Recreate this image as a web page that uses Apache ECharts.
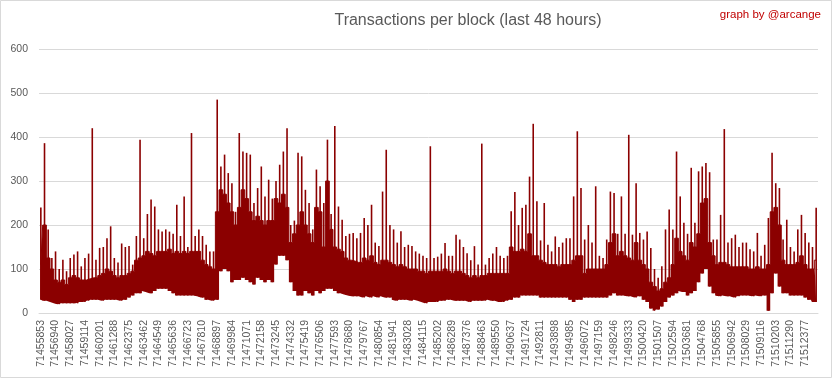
<!DOCTYPE html>
<html>
<head>
<meta charset="utf-8">
<script src="https://cdn.jsdelivr.net/npm/echarts@6/dist/echarts.min.js"></script>
<style>
html,body{margin:0;padding:0;background:#fff;}
#chart{width:833px;height:379px;}
</style>
</head>
<body>
<div id="chart"></div>
<script>
// Tick labels (block numbers, every 1087 blocks)
const tickLabels = [
"71455853","71456940","71458027","71459114","71460201","71461288","71462375","71463462",
"71464549","71465636","71466723","71467810","71468897","71469984","71471071","71472158",
"71473245","71474332","71475419","71476506","71477593","71478680","71479767","71480854",
"71481941","71483028","71484115","71485202","71486289","71487376","71488463","71489550",
"71490637","71491724","71492811","71493898","71494985","71496072","71497159","71498246",
"71499333","71500420","71501507","71502594","71503681","71504768","71505855","71506942",
"71508029","71509116","71510203","71511290","71512377"
];

// Highest transactions per block in each sample (4 samples per tick interval)
const hiValues = [
240,386,190,125, 140,100,121,95, 125,133,140,106, 125,135,420,121,
148,150,170,197, 125,115,158,150, 152,110,175,394, 170,225,258,242,
190,185,190,185, 180,246,175,265, 150,409,175,190, 175,155,140,140,
485,333,360,318, 295,230,409,367, 364,360,250,284, 333,265,303,260,
300,337,367,420, 200,210,364,356, 280,250,190,326, 288,250,394,225,
425,242,212,175, 180,182,170,182, 216,200,246,160, 152,276,371,200,
190,160,186,150, 155,152,140,135, 130,125,379,125, 128,135,159,130,
130,178,167,150, 136,120,152,110, 385,110,125,135, 150,130,125,130,
231,275,200,239, 246,310,430,254, 165,250,155,140, 174,150,160,170,
170,265,413,284, 167,200,160,288, 130,125,167,276, 273,180,265,180,
405,178,295,182, 167,185,148,100, 80,106,190,235, 190,367,265,205,
180,330,205,322, 333,341,320,167, 167,223,418,160, 170,178,150,160,
160,145,140,182, 130,155,216,364, 295,284,167,212, 150,140,190,223,
182,160,150,239
];

// Typical (dense) level of transactions per block in each sample
const bodyValues = [
110,200,125,100, 75,70,75,65, 80,85,80,75, 75,78,80,80,
85,90,100,95, 85,80,85,85, 90,95,120,125, 130,140,135,130,
140,140,140,145, 135,140,135,140, 135,140,140,140, 120,110,105,100,
230,280,270,250, 230,200,240,280, 260,230,210,220, 210,200,210,210,
260,250,270,240, 160,180,200,230, 200,180,160,240, 230,150,300,190,
150,145,140,125, 120,118,115,115, 125,120,130,115, 110,120,120,115,
110,105,110,105, 100,100,100,95, 95,90,95,95, 95,95,100,95,
90,95,95,90, 85,80,85,80, 85,85,90,90, 90,90,90,90,
150,140,140,145, 140,180,130,130, 120,115,110,110, 110,105,110,110,
110,120,130,130, 90,100,100,100, 100,100,110,160, 180,130,140,130,
125,120,160,120, 110,100,70,60, 50,55,70,80, 110,170,140,130,
120,160,150,180, 250,260,160,130, 110,115,115,110, 105,105,105,105,
105,100,100,105, 100,100,110,230, 240,200,120,110, 110,110,115,130,
110,100,100,120
];

// Lowest transactions per block in each sample
const loValues = [
30,28,28,25, 22,20,22,22, 22,22,22,25, 25,28,30,30,
30,28,30,30, 30,30,28,30, 35,40,45,45, 50,48,45,50,
55,55,55,50, 45,40,40,40, 40,40,40,38, 35,30,30,28,
30,95,100,95, 70,75,75,80, 75,70,65,80, 75,70,75,70,
110,130,130,120, 70,50,40,40, 50,45,40,50, 45,50,55,55,
50,45,45,42, 40,38,38,38, 35,38,35,38, 35,38,35,35,
30,28,30,30, 30,28,30,28, 25,22,25,25, 25,28,28,30,
30,28,28,28, 28,25,28,28, 28,28,30,28, 28,25,25,28,
30,35,35,40, 40,40,40,40, 35,35,35,35, 35,35,35,35,
30,25,30,30, 35,35,35,35, 35,35,35,40, 45,40,40,40,
38,38,35,38, 30,25,10,5, 8,15,25,35, 40,45,50,48,
40,45,50,70, 90,100,60,45, 40,38,40,38, 38,35,38,40,
40,40,38,40, 38,40,5,45, 90,60,45,45, 40,40,40,40,
35,30,25,25
];

const yTicks = [0,100,200,300,400,500,600];

const perTick = 4;
const cats = hiValues.map((v, i) => String(i));
const bodyRange = bodyValues.map((v, i) => v - loValues[i]);
const spikeRange = hiValues.map((v, i) => v - loValues[i]);
const RED = '#8B0000';
const labelFont = 'Liberation Sans, Arial, sans-serif';

const chart = echarts.init(document.getElementById('chart'), null, {renderer:'canvas'});
chart.setOption({
  animation: false,
  backgroundColor: '#ffffff',
  grid: {left: 39, right: 15, top: 49, bottom: 66, containLabel: false},
  xAxis: [{
    type: 'category',
    data: cats,
    boundaryGap: true,
    axisLine: {show: true, lineStyle: {color: '#D9D9D9', width: 1}},
    axisTick: {show: false},
    axisLabel: {
      interval: perTick - 1,
      rotate: 90,
      margin: 7,
      color: '#595959',
      fontSize: 10.5,
      fontFamily: labelFont,
      formatter: function (v, idx) { return idx % perTick === 0 ? tickLabels[idx / perTick] : ''; }
    },
    splitLine: {show: false}
  }, {
    type: 'category',
    data: cats,
    boundaryGap: true,
    position: 'bottom',
    show: false
  }],
  yAxis: {
    type: 'value',
    min: yTicks[0],
    max: yTicks[yTicks.length - 1],
    interval: 100,
    axisLine: {show: false},
    axisTick: {show: false},
    axisLabel: {color: '#595959', fontSize: 10.5, margin: 11, fontFamily: labelFont},
    splitLine: {show: true, lineStyle: {color: '#D9D9D9', width: 1}}
  },
  series: [
    {type: 'line', xAxisIndex: 0, stack: 'body', data: loValues, step: 'middle', symbol: 'none',
     lineStyle: {opacity: 0}, areaStyle: {opacity: 0}, silent: true},
    {type: 'line', xAxisIndex: 0, stack: 'body', data: bodyRange, step: 'middle', symbol: 'none',
     lineStyle: {color: RED, width: 1}, areaStyle: {color: RED, opacity: 1}, itemStyle: {color: RED}},
    {type: 'bar', xAxisIndex: 1, stack: 'spike', data: loValues, itemStyle: {color: 'rgba(0,0,0,0)'}, barWidth: 1.6, silent: true},
    {type: 'bar', xAxisIndex: 1, stack: 'spike', data: spikeRange, itemStyle: {color: RED}, barWidth: 1.6}
  ],
  graphic: [
    {type: 'rect', shape: {x: 0.5, y: 0.5, width: 831, height: 377}, style: {fill: 'none', stroke: '#D9D9D9', lineWidth: 1}, silent: true},
    {type: 'text', x: 468, y: 21, style: {text: 'Transactions per block (last 48 hours)', fill: '#595959', font: '16px "Liberation Sans", Arial, sans-serif', textAlign: 'center', textVerticalAlign: 'middle'}},
    {type: 'text', x: 821, y: 15, style: {text: 'graph by @arcange', fill: '#C00000', font: '11.5px "Liberation Sans", Arial, sans-serif', textAlign: 'right', textVerticalAlign: 'middle'}}
  ]
});
</script>
</body>
</html>
